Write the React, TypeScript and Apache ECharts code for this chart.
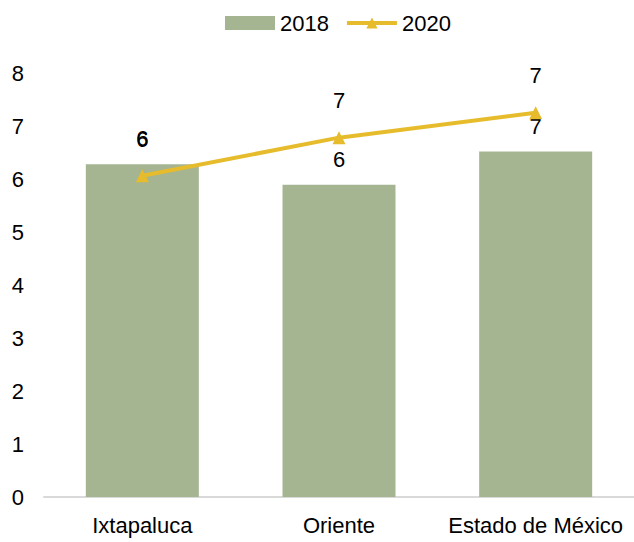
import React, { useEffect, useRef } from "react";
import * as echarts from "echarts";

const categories = ["Ixtapaluca", "Oriente", "Estado de México"];
const values2018 = [6.28, 5.89, 6.52];
const values2020 = [6.06, 6.78, 7.25];
const yTicks = [0, 1, 2, 3, 4, 5, 6, 7, 8];

export default function App() {
  const ref = useRef<HTMLDivElement>(null);
  useEffect(() => {
    document.body.style.margin = "0";
    const chart = echarts.init(ref.current!, null, { renderer: "svg" });
    const font = "Liberation Sans, Arial, sans-serif";
    chart.setOption({
      animation: false,
      textStyle: { fontFamily: font },
      legend: {
        top: 7,
        left: 220,
        itemGap: 16,
        itemWidth: 50,
        itemHeight: 14,
        textStyle: { fontSize: 22, color: "#000", fontFamily: font },
        data: [
          { name: "2018", icon: "rect" },
          { name: "2020", lineStyle: { width: 4 } },
        ],
      },
      grid: { left: 44, top: 73, width: 597, height: 424 },
      xAxis: {
        type: "category",
        data: categories,
        axisLine: { lineStyle: { color: "#d9d9d9", width: 2 } },
        axisTick: { show: false },
        axisLabel: { fontSize: 22, color: "#000", margin: 17, fontFamily: font, interval: 0 },
      },
      yAxis: {
        type: "value",
        min: yTicks[0],
        max: yTicks[yTicks.length - 1],
        interval: 1,
        splitLine: { show: false },
        axisLine: { show: false },
        axisTick: { show: false },
        axisLabel: { fontSize: 22, color: "#000", margin: 20, fontFamily: font },
      },
      series: [
        {
          name: "2018",
          type: "bar",
          data: values2018,
          barWidth: 113,
          itemStyle: { color: "#A5B592" },
          label: {
            show: true,
            position: "top",
            distance: 14,
            fontSize: 22,
            color: "#000",
            fontFamily: font,
            formatter: (p: any) => Math.round(p.value).toString(),
          },
        },
        {
          name: "2020",
          type: "line",
          data: values2020,
          symbol: "triangle",
          symbolSize: 13,
          lineStyle: { color: "#E6BC2C", width: 4 },
          itemStyle: { color: "#E6BC2C" },
          label: {
            show: true,
            position: "top",
            distance: 20,
            fontSize: 22,
            color: "#000",
            fontFamily: font,
            formatter: (p: any) => Math.round(p.value).toString(),
          },
        },
      ],
    });
    return () => chart.dispose();
  }, []);
  return <div ref={ref} style={{ width: 634, height: 542 }} />;
}
